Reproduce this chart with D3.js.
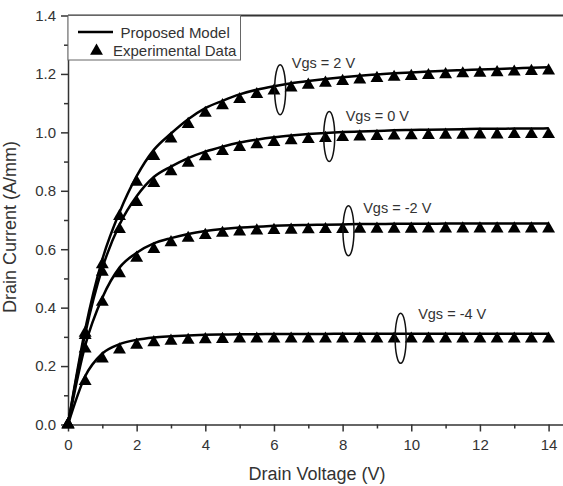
<!DOCTYPE html>
<html>
<head>
<meta charset="utf-8">
<script src="https://cdn.jsdelivr.net/npm/d3@7"></script>
<style>
  body { margin: 0; background: #fff; }
  svg { font-family: "Liberation Sans", Arial, sans-serif; }
  .axis path, .axis line { stroke: #333; stroke-width: 1.5; }
  .axis text { font-size: 15px; fill: #333; }
</style>
</head>
<body>
<svg id="svgIV" width="563" height="486"></svg>
<script>
// drain voltage grid (V)
var vd = [0, 0.5, 1, 1.5, 2, 2.5, 3, 3.5, 4, 4.5, 5, 5.5, 6, 6.5, 7,
          7.5, 8, 8.5, 9, 9.5, 10, 10.5, 11, 11.5, 12, 12.5, 13, 13.5, 14];

// proposed model (A/mm)
var model2  = [0, 0.325, 0.565, 0.726, 0.85, 0.94, 0.996, 1.045, 1.083, 1.108, 1.13, 1.146, 1.158, 1.168, 1.176,
               1.183, 1.189, 1.194, 1.198, 1.202, 1.205, 1.208, 1.211, 1.213, 1.215, 1.217, 1.219, 1.221, 1.223];
var model0  = [0, 0.31, 0.535, 0.684, 0.781, 0.847, 0.883, 0.912, 0.934, 0.951, 0.965, 0.975, 0.983, 0.989, 0.994,
               0.998, 1.001, 1.003, 1.005, 1.007, 1.008, 1.009, 1.01, 1.011, 1.012, 1.012, 1.013, 1.013, 1.014];
var modelM2 = [0, 0.27, 0.434, 0.537, 0.588, 0.62, 0.638, 0.652, 0.662, 0.669, 0.674, 0.677, 0.68, 0.682, 0.683,
               0.684, 0.685, 0.686, 0.686, 0.687, 0.687, 0.687, 0.688, 0.688, 0.688, 0.688, 0.688, 0.688, 0.688];
var modelM4 = [0, 0.165, 0.243, 0.275, 0.29, 0.298, 0.302, 0.305, 0.307, 0.308, 0.309, 0.309, 0.31, 0.31, 0.31,
               0.31, 0.311, 0.311, 0.311, 0.311, 0.311, 0.311, 0.311, 0.311, 0.311, 0.311, 0.311, 0.311, 0.311];

// experimental data (A/mm)
var exp2  = [0, 0.313, 0.548, 0.713, 0.83, 0.918, 0.978, 1.028, 1.066, 1.092, 1.113, 1.13, 1.142, 1.153, 1.162,
             1.169, 1.175, 1.18, 1.185, 1.189, 1.192, 1.195, 1.198, 1.201, 1.203, 1.205, 1.207, 1.209, 1.211];
var exp0  = [0, 0.305, 0.522, 0.668, 0.761, 0.826, 0.866, 0.895, 0.917, 0.935, 0.949, 0.958, 0.966, 0.972, 0.976,
             0.98, 0.983, 0.985, 0.987, 0.988, 0.989, 0.99, 0.991, 0.991, 0.992, 0.992, 0.993, 0.993, 0.993];
var expM2 = [0, 0.259, 0.419, 0.517, 0.57, 0.6, 0.623, 0.638, 0.648, 0.655, 0.66, 0.663, 0.665, 0.666, 0.667,
             0.668, 0.668, 0.669, 0.669, 0.669, 0.669, 0.67, 0.67, 0.67, 0.67, 0.67, 0.67, 0.67, 0.67];
var expM4 = [0, 0.148, 0.225, 0.256, 0.272, 0.281, 0.286, 0.289, 0.291, 0.292, 0.293, 0.293, 0.293, 0.293, 0.293,
             0.293, 0.293, 0.293, 0.293, 0.293, 0.293, 0.293, 0.293, 0.293, 0.293, 0.293, 0.293, 0.293, 0.293];

var modelSeries = [model2, model0, modelM2, modelM4];
var expSeries = [exp2, exp0, expM2, expM4];

// annotations: label, ellipse centre (V, A/mm), label position (V, A/mm)
var annLabels = ["Vgs = 2 V", "Vgs = 0 V", "Vgs = -2 V", "Vgs = -4 V"];
var annEllipse = [[6.18, 1.146], [7.61, 0.986], [8.17, 0.663], [9.69, 0.295]];
var annText = [[6.52, 1.222], [8.09, 1.04], [8.6, 0.724], [10.2, 0.362]];

var xTicks = [0, 2, 4, 6, 8, 10, 12, 14];
var yTicks = [0, 0.2, 0.4, 0.6, 0.8, 1.0, 1.2, 1.4];

var svg = d3.select("#svgIV"),
    plotL = 68, plotR = 563, plotT = 15.5, plotB = 424.5;

var x = d3.scaleLinear().domain([0, 14.42]).range([plotL, plotR]);
var y = d3.scaleLinear().domain([0, 1.4]).range([plotB, plotT]);

// minor ticks
svg.append("g")
    .attr("class", "axis")
    .attr("transform", "translate(0," + plotB + ")")
    .call(d3.axisBottom(x).tickValues(d3.range(1, 15, 2)).tickSize(4).tickFormat(""))
    .select(".domain").remove();
svg.append("g")
    .attr("class", "axis")
    .attr("transform", "translate(" + plotL + ",0)")
    .call(d3.axisLeft(y).tickValues(d3.range(0.1, 1.4, 0.2)).tickSize(4).tickFormat(""))
    .select(".domain").remove();

// major ticks
svg.append("g")
    .attr("class", "axis")
    .attr("transform", "translate(0," + plotB + ")")
    .call(d3.axisBottom(x).tickValues(xTicks).tickSize(7).tickSizeOuter(0).tickPadding(8));

svg.append("g")
    .attr("class", "axis")
    .attr("transform", "translate(" + plotL + ",0)")
    .call(d3.axisLeft(y).tickValues(yTicks).tickSize(7).tickSizeOuter(0).tickPadding(5)
      .tickFormat(d3.format(".1f")));

// top frame
svg.append("line")
    .attr("x1", plotL).attr("x2", plotR)
    .attr("y1", plotT).attr("y2", plotT)
    .style("stroke", "#333").style("stroke-width", 2);

// axis titles
svg.append("text")
    .attr("x", 317)
    .attr("y", 480)
    .attr("text-anchor", "middle")
    .style("font-size", "18px").style("fill", "#333")
    .text("Drain Voltage (V)");

svg.append("text")
    .attr("transform", "translate(16,227) rotate(-90)")
    .attr("text-anchor", "middle")
    .style("font-size", "18px").style("fill", "#333")
    .text("Drain Current (A/mm)");

var tri = d3.symbol().type(d3.symbolTriangle).size(72);

// experimental markers
expSeries.forEach(function(s) {
  svg.append("g").selectAll("path")
    .data(s)
    .enter().append("path")
      .attr("d", tri)
      .attr("transform", function(d, i) { return "translate(" + x(vd[i]) + "," + y(d) + ")"; })
      .style("fill", "#000");
});

// model curves
var line = d3.line()
    .x(function(d, i) { return x(vd[i]); })
    .y(function(d) { return y(d); })
    .curve(d3.curveMonotoneX);

modelSeries.forEach(function(s) {
  svg.append("path")
    .datum(s)
    .attr("d", line)
    .style("fill", "none")
    .style("stroke", "#000")
    .style("stroke-width", 2.5);
});

// annotations
annLabels.forEach(function(lbl, i) {
  svg.append("ellipse")
    .attr("cx", x(annEllipse[i][0]))
    .attr("cy", y(annEllipse[i][1]))
    .attr("rx", 5.5).attr("ry", 25)
    .style("fill", "none").style("stroke", "#111").style("stroke-width", 1.5);
  svg.append("text")
    .attr("x", x(annText[i][0]))
    .attr("y", y(annText[i][1]))
    .style("font-size", "14.5px").style("fill", "#333")
    .text(lbl);
});

// legend
var legend = svg.append("g");
legend.append("rect")
    .attr("x", plotL).attr("y", plotT)
    .attr("width", 172.5).attr("height", 44.5)
    .style("fill", "#fff").style("stroke", "#666").style("stroke-width", 1);
legend.append("line")
    .attr("x1", 78).attr("x2", 113)
    .attr("y1", 32).attr("y2", 32)
    .style("stroke", "#000").style("stroke-width", 2.5);
legend.append("text")
    .attr("x", 120.5).attr("y", 37.5)
    .style("font-size", "15px").style("fill", "#333")
    .text("Proposed Model");
legend.append("path")
    .attr("d", tri)
    .attr("transform", "translate(96.5,51)")
    .style("fill", "#000");
legend.append("text")
    .attr("x", 113).attr("y", 56)
    .style("font-size", "15px").style("fill", "#333")
    .text("Experimental Data");
</script>
</body>
</html>
